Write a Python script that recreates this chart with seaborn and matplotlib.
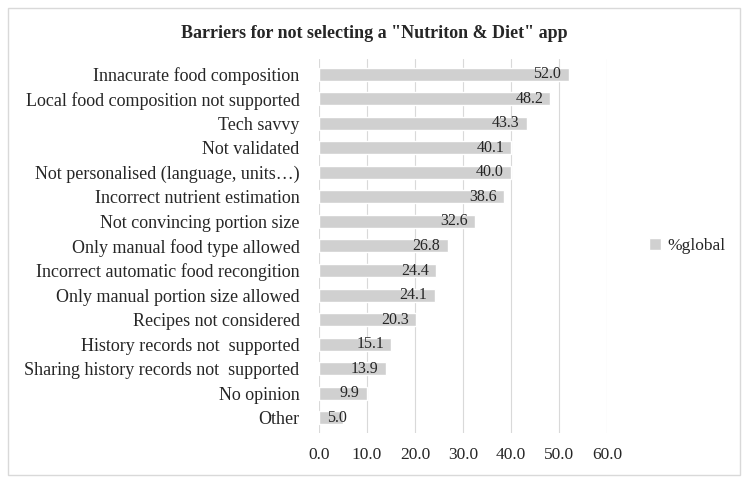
import numpy as np
import pandas as pd
import matplotlib
matplotlib.use("Agg")
import matplotlib.pyplot as plt
import seaborn as sns
from matplotlib.patches import Rectangle

barriers = ["Innacurate food composition",
            "Local food composition not supported",
            "Tech savvy",
            "Not validated",
            "Not personalised (language, units\u2026)",
            "Incorrect nutrient estimation",
            "Not convincing portion size",
            "Only manual food type allowed",
            "Incorrect automatic food recongition",
            "Only manual portion size allowed",
            "Recipes not considered",
            "History records not  supported",
            "Sharing history records not  supported",
            "No opinion",
            "Other"]
pct_global = [52.0, 48.2, 43.3, 40.1, 40.0, 38.6, 32.6, 26.8, 24.4, 24.1,
              20.3, 15.1, 13.9, 9.9, 5.0]
x_ticks = [0, 10, 20, 30, 40, 50, 60]

df = pd.DataFrame({"barrier": barriers, "pct": pct_global})

sns.set_style("white")
plt.rcParams['font.family'] = ['Liberation Serif', 'DejaVu Serif']

fig = plt.figure(figsize=(7.48, 4.82), dpi=100)
ax = fig.add_axes([0.4265, 0.1023, 0.385, 0.7747])

bar_color = "#d0d0d0"
sns.barplot(data=df, x="pct", y="barrier", color=bar_color, width=0.53,
            saturation=1, ax=ax, label="%global", zorder=2)

# value labels inside end (short bars: keep label right of the axis)
for i, v in enumerate(pct_global):
    ax.text(max(v - 1.5, 5.9), i, f"{v:.1f}", ha="right", va="center",
            fontsize=11.5, color="#262626", zorder=3)

ax.set_xlim(0, 60)
ax.set_xticks(x_ticks)
ax.set_xticklabels([f"{t:.1f}" for t in x_ticks], fontsize=12.5, color="#262626")
ax.tick_params(axis="y", labelsize=13, labelcolor="#262626", length=0, pad=14)
ax.tick_params(axis="x", length=0, pad=10)
ax.grid(axis="x", color="#d9d9d9", linewidth=0.8, zorder=0)
ax.set_axisbelow(True)
for s in ax.spines.values():
    s.set_visible(False)
ax.set_xlabel("")
ax.set_ylabel("")
ax.set_ylim(14.6, -0.6)

leg = ax.legend(loc="center left", bbox_to_anchor=(1.09, 0.5), frameon=False,
                fontsize=12.5, handlelength=0.7, handleheight=0.7,
                handletextpad=0.4)

fig.text(0.5, 0.931, 'Barriers for not selecting a "Nutriton & Diet" app',
         ha="center", va="center", fontsize=13, fontweight="bold",
         color="#262626")

fig.patches.append(Rectangle((0.011, 0.015), 0.978, 0.968, transform=fig.transFigure,
                             fill=False, edgecolor="#d9d9d9", linewidth=1))

fig.savefig("out.png", dpi=100)
